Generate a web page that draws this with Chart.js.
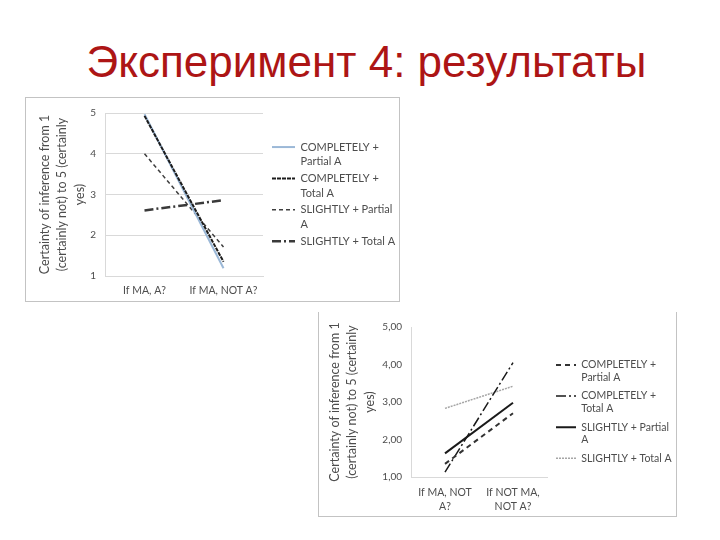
<!DOCTYPE html>
<html>
<head>
<meta charset="utf-8">
<script src="https://cdn.jsdelivr.net/npm/chart.js@4.4.0/dist/chart.umd.min.js"></script>
<style>
  body { margin: 0; background: #fff; width: 720px; height: 540px; position: relative; overflow: hidden; }
  #title { position: absolute; left: 0; top: 40px; width: 733px; text-align: center;
           font-family: "Liberation Sans", Arial, sans-serif; font-size: 44px; line-height: 44px; color: #ad1515; }
  #box1 { position: absolute; left: 25px; top: 97px; width: 375px; height: 205px;
          border: 1px solid #c3c3c3; box-sizing: border-box; }
  #box2 { position: absolute; left: 318px; top: 312px; width: 359px; height: 205px;
          border: 1px solid #c3c3c3; border-top: none; box-sizing: border-box; }
  canvas { display: block; }
</style>
</head>
<body>
<div id="title">Эксперимент 4: результаты</div>
<div id="box1"><canvas id="chart1" width="373" height="203"></canvas></div>
<div id="box2"><canvas id="chart2" width="357" height="204"></canvas></div>
<script>
var cats1 = ['If MA, A?', 'If MA, NOT A?'];
var cats2 = [['If MA, NOT', 'A?'], ['If NOT MA,', 'NOT A?']];
var names = ['COMPLETELY + Partial A', 'COMPLETELY + Total A', 'SLIGHTLY + Partial A', 'SLIGHTLY + Total A'];
var legendLines = [['COMPLETELY +', 'Partial A'], ['COMPLETELY +', 'Total A'], ['SLIGHTLY + Partial', 'A'], ['SLIGHTLY + Total A']];
var yTitle = ['Certainty of inference from 1', '(certainly not) to 5 (certainly', 'yes)'];
var yTicks = [1, 2, 3, 4, 5];

// top left chart
var c1CompPartial = [4.97, 1.19];
var c1CompTotal = [4.93, 1.35];
var c1SlightPartial = [4.0, 1.71];
var c1SlightTotal = [2.61, 2.86];

// bottom right chart
var c2CompPartial = [1.35, 2.70];
var c2CompTotal = [1.13, 4.05];
var c2SlightPartial = [1.63, 2.98];
var c2SlightTotal = [2.83, 3.42];

var grey = '#4d4d4d';
Chart.defaults.font.family = 'Lato, "Open Sans", sans-serif';
Chart.defaults.color = grey;

// keep the legend column at a fixed width
var legendWidth = {
  id: 'legendWidth',
  afterInit: function(chart, args, opts) {
    var lg = chart.legend, fit = lg.fit;
    lg.fit = function() { fit.call(this); this.width = opts.width; };
  }
};

function makeChart(id, cats, sets, o) {
  return new Chart(document.getElementById(id), {
    type: 'line',
    data: { labels: cats, datasets: sets },
    plugins: [legendWidth],
    options: {
      responsive: false,
      animation: false,
      events: [],
      layout: { padding: { top: o.top } },
      elements: { point: { radius: 0 }, line: { tension: 0 } },
      plugins: {
        legendWidth: { width: o.legendW },
        tooltip: { enabled: false },
        legend: {
          position: 'right',
          fullSize: false,
          title: { display: true, text: '', font: { size: 1, lineHeight: 1 }, padding: { top: o.legendShift, bottom: 0 } },
          labels: {
            usePointStyle: true, pointStyle: 'line', pointStyleWidth: o.boxW,
            padding: o.legendPad, color: grey,
            font: { size: o.legendFont, lineHeight: o.legendLine },
            generateLabels: function(chart) {
              var items = Chart.defaults.plugins.legend.labels.generateLabels(chart);
              items.sort(function(a, b) { return a.datasetIndex - b.datasetIndex; });
              items.forEach(function(it) {
                var ds = chart.data.datasets[it.datasetIndex];
                it.text = legendLines[it.datasetIndex];
                it.lineDash = ds.borderDash || [];
                it.lineWidth = ds.borderWidth;
                it.strokeStyle = ds.borderColor;
              });
              return items;
            }
          }
        }
      },
      scales: {
        x: {
          offset: true,
          grid: { display: false },
          border: { display: true, color: '#d9d9d9' },
          ticks: { color: grey, font: { size: 10.5, lineHeight: 1.25 }, padding: o.xPad, maxRotation: 0, autoSkip: false },
          afterFit: function(s) { s.height = o.xH; }
        },
        y: {
          min: yTicks[0], max: yTicks[yTicks.length - 1],
          grid: { display: o.yGrid, color: '#d9d9d9', drawTicks: false },
          border: { display: true, color: '#d9d9d9' },
          ticks: { stepSize: 1, padding: 9, color: grey, font: { size: 10 }, callback: o.fmt },
          title: { display: true, text: yTitle, color: grey, font: { size: 12.5, lineHeight: 1.4 }, padding: { top: o.titlePad, bottom: 0 } },
          afterFit: function(s) { s.width = o.yW; }
        },
        gap: {
          type: 'linear', position: 'right', display: true,
          grid: { display: false }, border: { display: false }, ticks: { display: false },
          afterFit: function(s) { s.width = o.gap; }
        }
      }
    }
  });
}

makeChart('chart1', cats1, [
  { label: names[0], data: c1CompPartial, borderColor: '#9bb8d7', borderWidth: 2, order: 1 },
  { label: names[1], data: c1CompTotal, borderColor: '#1c1c1c', borderWidth: 2, borderDash: [4, 1], order: 0 },
  { label: names[2], data: c1SlightPartial, borderColor: '#3f3f3f', borderWidth: 1.5, borderDash: [4, 3], order: 1 },
  { label: names[3], data: c1SlightTotal, borderColor: '#3a3a3a', borderWidth: 2.5, borderDash: [9, 3, 2, 3], order: 1 }
], {
  top: 13, yW: 79, xH: 25, xPad: 0.5, gap: 7, legendW: 129, legendPad: 2, legendFont: 11, legendLine: 1.336,
  legendShift: 2, boxW: 23, titlePad: 10, yGrid: true,
  fmt: function(v) { return v; }
});

makeChart('chart2', cats2, [
  { label: names[0], data: c2CompPartial, borderColor: '#333333', borderWidth: 2, borderDash: [5, 4] },
  { label: names[1], data: c2CompTotal, borderColor: '#1a1a1a', borderWidth: 1.5, borderDash: [10, 3, 2, 3] },
  { label: names[2], data: c2SlightPartial, borderColor: '#1a1a1a', borderWidth: 2 },
  { label: names[3], data: c2SlightTotal, borderColor: '#a6a6a6', borderWidth: 1.5, borderDash: [2, 1] }
], {
  top: 11, yW: 92, xH: 39, xPad: 1.5, gap: 2.5, legendW: 126.5, legendPad: 6.5, legendFont: 10.5, legendLine: 1.17,
  legendShift: 20, boxW: 20, titlePad: 7, yGrid: false,
  fmt: function(v) { return v.toFixed(2).replace('.', ','); }
});
</script>
</body>
</html>
